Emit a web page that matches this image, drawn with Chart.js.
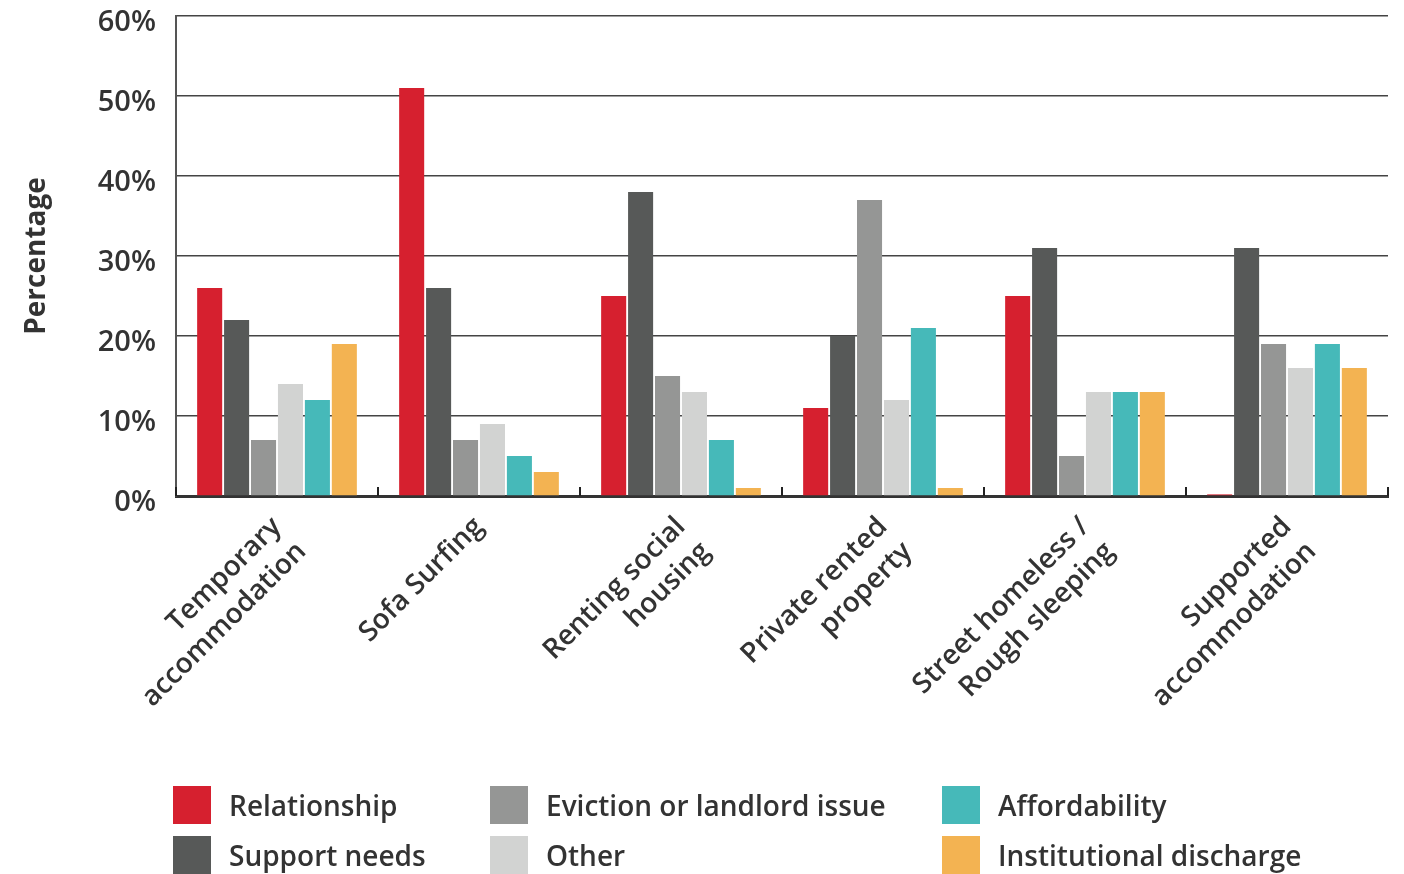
<!DOCTYPE html>
<html>
<head>
<meta charset="utf-8">
<script src="https://cdn.jsdelivr.net/npm/chart.js@4/dist/chart.umd.min.js"></script>
<style>
  body { margin: 0; background: #fff; }
  #wrap { position: relative; width: 1404px; height: 874px; }
  #legend { position: absolute; left: 0; top: 0; width: 1404px; height: 874px; pointer-events: none; }
  .item { position: absolute; display: flex; align-items: center; height: 38px;
          font-family: "Open Sans", sans-serif; font-weight: 600; font-size: 28px; color: #333; }
  .swatch { width: 38px; height: 38px; margin-right: 18px; }
</style>
</head>
<body>
<div id="wrap">
  <canvas id="chart" width="1404" height="874"></canvas>
  <div id="legend"></div>
</div>
<script>
// Categories and series
const categories = [
  ['Temporary', 'accommodation'],
  ['Sofa Surfing'],
  ['Renting social', 'housing'],
  ['Private rented', 'property'],
  ['Street homeless /', 'Rough sleeping'],
  ['Supported', 'accommodation']
];
const seriesNames = ['Relationship', 'Support needs', 'Eviction or landlord issue', 'Other', 'Affordability', 'Institutional discharge'];
const seriesColors = ['#D6202F', '#575958', '#959695', '#D2D3D2', '#46B9B9', '#F3B352'];

const relationship = [26, 51, 25, 11, 25, 0.2];
const supportNeeds = [22, 26, 38, 20, 31, 31];
const eviction = [7, 7, 15, 37, 5, 19];
const other = [14, 9, 13, 12, 13, 16];
const affordability = [12, 5, 7, 21, 13, 19];
const institutional = [19, 3, 1, 1, 13, 16];

const yTicks = [0, 10, 20, 30, 40, 50, 60];

const seriesValues = [relationship, supportNeeds, eviction, other, affordability, institutional];
const textColor = '#333';

// Small upward tick marks at the category boundaries on the x axis
const boundaryTicks = {
  id: 'boundaryTicks',
  afterDraw(chart) {
    const x = chart.scales.x;
    const ctx = chart.ctx;
    const bottom = chart.chartArea.bottom;
    const half = (x.getPixelForValue(1) - x.getPixelForValue(0)) / 2;
    ctx.save();
    ctx.strokeStyle = '#222';
    ctx.lineWidth = 2;
    for (let i = 0; i <= categories.length; i++) {
      const px = Math.round(x.getPixelForValue(0) - half + i * half * 2);
      ctx.beginPath();
      ctx.moveTo(px, bottom - 9);
      ctx.lineTo(px, bottom);
      ctx.stroke();
    }
    ctx.restore();
  }
};

const chart = new Chart(document.getElementById('chart'), {
  type: 'bar',
  data: {
    labels: categories,
    datasets: seriesNames.map((name, i) => ({
      label: name,
      data: seriesValues[i],
      backgroundColor: seriesColors[i],
      categoryPercentage: 0.8,
      barPercentage: 0.93
    }))
  },
  options: {
    responsive: false,
    animation: false,
    layout: { padding: { top: 16, right: 16, left: 0, bottom: 0 } },
    plugins: { legend: { display: false }, tooltip: { enabled: false } },
    scales: {
      x: {
        grid: { display: false, drawTicks: false },
        border: { color: '#333', width: 3 },
        ticks: {
          maxRotation: 45,
          minRotation: 45,
          padding: 14,
          color: textColor,
          font: { family: 'Open Sans', size: 28, weight: '600', lineHeight: 1.25 }
        },
        afterFit(scale) {
          scale.height = 378;
          scale.paddingLeft = 0;
          scale.paddingRight = 0;
        }
      },
      y: {
        min: 0,
        max: 60,
        afterBuildTicks(scale) { scale.ticks = yTicks.map(v => ({ value: v })); },
        ticks: {
          padding: 20,
          labelOffset: 7,
          color: textColor,
          font: { family: 'Open Sans', size: 29, weight: '600' },
          callback: v => v + '%'
        },
        grid: { color: '#444', lineWidth: 1.5, drawTicks: false },
        border: { color: '#555', width: 2 },
        title: {
          display: true,
          text: 'Percentage',
          color: textColor,
          font: { family: 'Open Sans', size: 28, weight: '700' },
          padding: { top: 20, bottom: 0 }
        },
        afterFit(scale) {
          scale.width = 176;
          scale.paddingTop = 0;
          scale.paddingBottom = 0;
        }
      }
    }
  },
  plugins: [boundaryTicks]
});

// Legend in three columns of two
const legendCols = [173, 490, 942];
const legendRows = [786, 836];
const legendEl = document.getElementById('legend');
chart.data.datasets.forEach((ds, i) => {
  const item = document.createElement('div');
  item.className = 'item';
  item.style.left = legendCols[Math.floor(i / 2)] + 'px';
  item.style.top = legendRows[i % 2] + 'px';
  item.innerHTML = `<span class="swatch" style="background:${ds.backgroundColor}"></span>${ds.label}`;
  legendEl.appendChild(item);
});
</script>
</body>
</html>
